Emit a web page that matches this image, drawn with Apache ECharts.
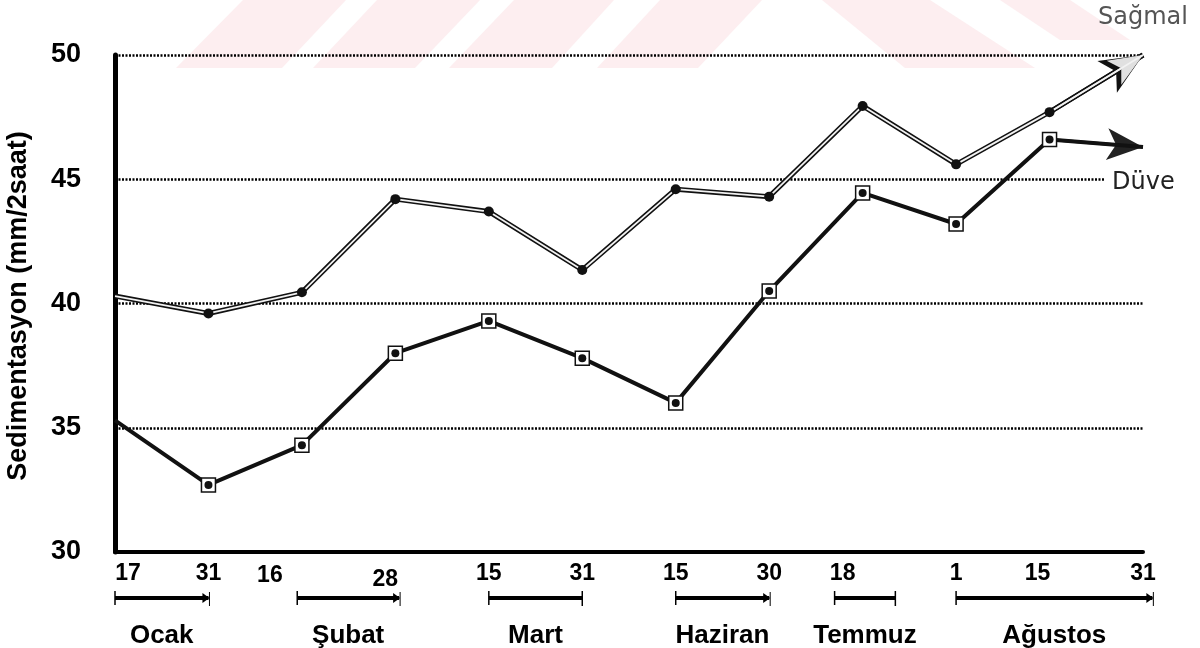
<!DOCTYPE html>
<html>
<head>
<meta charset="utf-8">
<script src="https://cdn.jsdelivr.net/npm/echarts@6/dist/echarts.min.js"></script>
<style>
html,body{margin:0;padding:0;background:#fff;}
#chart{width:1200px;height:648px;}
</style>
</head>
<body>
<div id="chart"></div>
<script>
// ---- data ----
const dayLabels = ['17','31','16','28','15','31','15','30','18','1','15','31'];
const sagmal = [40.3, 39.6, 40.45, 44.2, 43.7, 41.35, 44.6, 44.3, 47.95, 45.6, 47.7, 50.0];
const duve   = [35.3, 32.7, 34.3, 38.0, 39.3, 37.8, 36.0, 40.5, 44.45, 43.2, 46.6, 46.3];
const monthNames = ['Ocak','Şubat','Mart','Haziran','Temmuz','Ağustos'];
const monthStart = [0, 1.95, 4, 6, 7.7, 9];
const monthEnd   = [1, 3.04, 5, 7, 8.35, 11.1];
const monthArrow = [true, true, false, true, false, true];
const yTicks = [30, 35, 40, 45, 50];
const yTitle = 'Sedimentasyon (mm/2saat)';

// ---- styles ----
const SANS = '"Liberation Sans",Arial,sans-serif';
const labelShift = {0: 13, 2: -32, 3: -10, 8: -20, 10: -12};
const labelDrop = {3: 3, 2: 1};

const chart = echarts.init(document.getElementById('chart'), null, {renderer: 'canvas'});
const last = sagmal.length - 1;
const innerSym = (v, p) => (p.dataIndex === 0 || p.dataIndex === last) ? 'none' : 'circle';
const rectSym = (v, p) => (p.dataIndex === 0 || p.dataIndex === last) ? 'none' : 'rect';

const xData = dayLabels.map((d, i) => {
  const s = labelShift[i] || 0, dr = labelDrop[i] || 0;
  return {
    value: d,
    textStyle: {
      padding: [dr * 2, s < 0 ? -2 * s : 0, 0, s > 0 ? 2 * s : 0]
    }
  };
});

const PINK = '#fdeef0';
const option = {
  animation: false,
  backgroundColor: '#fff',
  grid: {left: 115, right: 57, top: 55, bottom: 96, containLabel: false},
  graphic: [
    // faint watermark stripes
    {type: 'polygon', z: -10, silent: true, shape: {points: [[176,68],[282,68],[346,0],[243,0]]}, style: {fill: PINK}},
    {type: 'polygon', z: -10, silent: true, shape: {points: [[313,68],[415,68],[480,0],[377,0]]}, style: {fill: PINK}},
    {type: 'polygon', z: -10, silent: true, shape: {points: [[449,68],[552,68],[614,0],[514,0]]}, style: {fill: PINK}},
    {type: 'polygon', z: -10, silent: true, shape: {points: [[597,68],[698,68],[762,0],[660,0]]}, style: {fill: PINK}},
    {type: 'polygon', z: -10, silent: true, shape: {points: [[822,0],[930,0],[1035,68],[905,68]]}, style: {fill: PINK}},
    {type: 'polygon', z: -10, silent: true, shape: {points: [[1000,0],[1070,0],[1130,40],[1060,40]]}, style: {fill: PINK}},
    // series labels
    {type: 'text', left: 1098, top: 6, z: 50, style: {text: 'Sağmal', font: '24px "DejaVu Sans"', fill: '#555'}},
    {type: 'text', left: 1104, top: 171, z: 50, style: {text: 'Düve', font: '24px "DejaVu Sans"', fill: '#222', backgroundColor: '#fff', padding: [0, 0, 0, 8]}},
    // y axis title
    {type: 'text', rotation: Math.PI / 2, x: 5, y: 306, z: 50,
     style: {text: yTitle, font: 'bold 27px ' + SANS, fill: '#000', align: 'center', verticalAlign: 'top'}}
  ],
  xAxis: {
    type: 'category',
    data: xData,
    boundaryGap: false,
    axisLine: {show: true, lineStyle: {color: '#000', width: 4}},
    axisTick: {show: false},
    axisLabel: {margin: 10, color: '#000', fontFamily: SANS, fontWeight: 'bold', fontSize: 23, interval: 0},
    splitLine: {show: false}
  },
  yAxis: {
    type: 'value',
    min: 30, max: 50, interval: 5,
    axisLine: {show: true, lineStyle: {color: '#000', width: 5}},
    axisTick: {show: false},
    axisLabel: {margin: 34, color: '#000', fontFamily: SANS, fontWeight: 'bold', fontSize: 27,
                formatter: v => yTicks.indexOf(v) >= 0 ? String(v) : ''},
    splitLine: {show: true, lineStyle: {color: '#000', width: 2.5, type: [2, 1.5]}}
  },
  series: [
    {
      name: 'Sağmal outline', type: 'line', data: sagmal, clip: false, z: 3,
      symbol: 'none', lineStyle: {color: '#111', width: 5},
      markLine: {
        silent: true, symbol: ['none', 'arrow'], symbolSize: [28, 42], z: 3,
        label: {show: false}, lineStyle: {color: '#111', width: 5, type: 'solid'},
        data: [[{coord: [10, sagmal[10]]}, {coord: [11, sagmal[11]]}]]
      }
    },
    {
      name: 'Sağmal', type: 'line', data: sagmal, clip: false, z: 4,
      symbol: innerSym, symbolSize: 10, showAllSymbol: true,
      itemStyle: {color: '#111'},
      lineStyle: {color: '#f2f2f2', width: 1.8},
      markLine: {
        silent: true, symbol: ['none', 'arrow'], symbolSize: [21, 34], z: 4,
        label: {show: false}, lineStyle: {color: '#e0e0e0', width: 1.8, type: 'solid'},
        data: [[{coord: [10, sagmal[10]]}, {coord: [11, sagmal[11]]}]]
      }
    },
    {
      name: 'Düve', type: 'line', data: duve, clip: false, z: 5,
      symbol: rectSym, symbolSize: 14, showAllSymbol: true,
      itemStyle: {color: '#fff', borderColor: '#111', borderWidth: 1.5},
      lineStyle: {color: '#111', width: 4},
      markLine: {
        silent: true, symbol: ['none', 'arrow'], symbolSize: [24, 36], z: 5,
        label: {show: false}, lineStyle: {color: '#222', width: 3, type: 'solid'},
        data: [[{coord: [10, duve[10]]}, {coord: [11, duve[11]]}]]
      }
    },
    {
      name: 'Düve dots', type: 'line', data: duve, clip: false, z: 6,
      symbol: innerSym, symbolSize: 8, showAllSymbol: true,
      itemStyle: {color: '#111'},
      lineStyle: {width: 0, opacity: 0}
    },
    {
      name: 'Aylar', type: 'custom', clip: false, z: 10, silent: true,
      data: monthNames.map((m, i) => [i, 30]),
      renderItem: function (params, api) {
        const i = params.dataIndex;
        const p0 = api.coord([0, 30]);
        const p1 = api.coord([1, 30]);
        const step = p1[0] - p0[0];
        const x1 = p0[0] + step * monthStart[i];
        const x2 = p0[0] + step * monthEnd[i];
        const y = p0[1] + 46;
        const children = [
          {type: 'line', shape: {x1: x1, y1: y, x2: x2, y2: y}, style: {stroke: '#000', lineWidth: 4}},
          {type: 'line', shape: {x1: x1, y1: y - 7, x2: x1, y2: y + 7}, style: {stroke: '#000', lineWidth: 1.5}},
          {type: 'text', x: (x1 + x2) / 2, y: y + 38,
           style: {text: monthNames[i], font: 'bold 26px ' + SANS, fill: '#000', align: 'center', verticalAlign: 'middle'}}
        ];
        if (monthArrow[i]) {
          children.push({type: 'polygon', shape: {points: [[x2 - 6, y - 5], [x2 + 1, y], [x2 - 6, y + 5]]}, style: {fill: '#000'}});
          children.push({type: 'line', shape: {x1: x2 + 1, y1: y - 6, x2: x2 + 1, y2: y + 8}, style: {stroke: '#000', lineWidth: 1}});
        } else {
          children.push({type: 'line', shape: {x1: x2, y1: y - 7, x2: x2, y2: y + 8}, style: {stroke: '#000', lineWidth: 1.5}});
        }
        return {type: 'group', children: children};
      }
    }
  ]
};
chart.setOption(option);
</script>
</body>
</html>
